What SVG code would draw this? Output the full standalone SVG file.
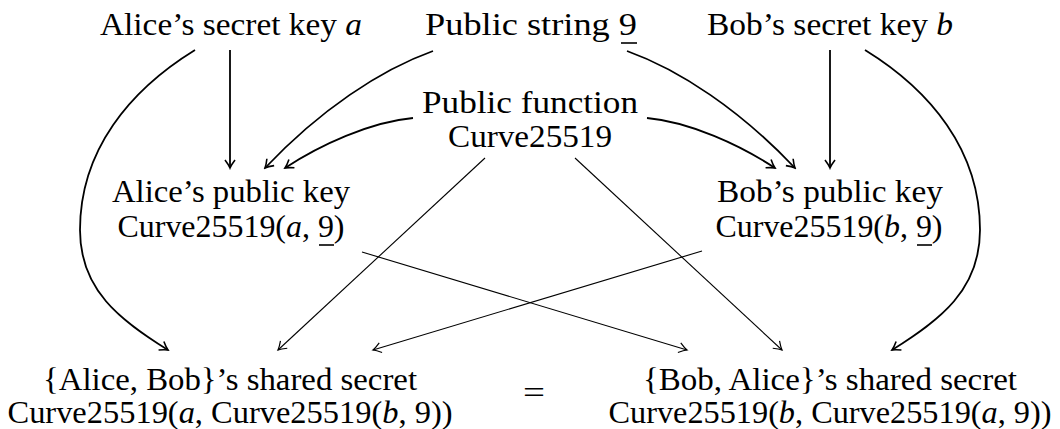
<svg xmlns="http://www.w3.org/2000/svg" width="1060" height="429" viewBox="0 0 1060 429">
<style>
text{font-family:'Liberation Serif','Times New Roman',serif;font-size:32px;fill:#000;text-anchor:middle}
.it{font-style:italic}
.thick{fill:none;stroke:#000;stroke-width:1.8;marker-end:url(#arr)}
.thin{fill:none;stroke:#000;stroke-width:1.1;marker-end:url(#arrThin)}
.ul{stroke:#000;stroke-width:1.6}
</style>
<defs>
<marker id="arr" viewBox="-10 -6 12 12" markerWidth="12" markerHeight="12" refX="0" refY="0" orient="auto" markerUnits="userSpaceOnUse">
<path d="M-8,-5 Q-3,-1.2 0,0 Q-3,1.2 -8,5" fill="none" stroke="#000" stroke-width="1.6"/>
</marker>
<marker id="arrThin" viewBox="-10 -6 12 12" markerWidth="12" markerHeight="12" refX="0" refY="0" orient="auto" markerUnits="userSpaceOnUse">
<path d="M-8,-5 Q-3,-1.2 0,0 Q-3,1.2 -8,5" fill="none" stroke="#000" stroke-width="1.2"/>
</marker>
</defs>
<g id="connectors">
<path class="thick" d="M230,50 L230,168"/>
<path class="thick" d="M830,50 L830,168"/>
<path class="thick" d="M195,50 C130,90 80,150 80,230 C80,290 120,320 168,350"/>
<path class="thick" d="M865,50 C930,90 980,150 980,230 C980,290 940,320 892,350"/>
<path class="thick" d="M433,51 C380,70 320,110 265,168"/>
<path class="thick" d="M627,51 C680,70 740,110 795,168"/>
<path class="thick" d="M413,118 C370,122 320,145 285,168"/>
<path class="thick" d="M647,118 C690,122 740,145 775,168"/>
<path class="thin" d="M485,158 L278,350"/>
<path class="thin" d="M575,158 L782,350"/>
<path class="thin" d="M362,252 L687,350"/>
<path class="thin" d="M702,251 L373,350"/>
</g>
<g id="alice-secret">
<text x="231" y="35" textLength="262" lengthAdjust="spacingAndGlyphs">Alice’s secret key <tspan class="it">a</tspan></text>
</g>
<g id="public-string">
<text x="531" y="35" textLength="212" lengthAdjust="spacingAndGlyphs">Public string 9</text>
<line class="ul" x1="621" y1="43" x2="637" y2="43"/>
</g>
<g id="bob-secret">
<text x="830" y="35" textLength="246" lengthAdjust="spacingAndGlyphs">Bob’s secret key <tspan class="it">b</tspan></text>
</g>
<g id="public-function">
<text x="530" y="113" textLength="216" lengthAdjust="spacingAndGlyphs">Public function</text>
<text x="530" y="147" textLength="164" lengthAdjust="spacingAndGlyphs">Curve25519</text>
</g>
<g id="alice-public">
<text x="231" y="202" textLength="238" lengthAdjust="spacingAndGlyphs">Alice’s public key</text>
<text x="231" y="237" textLength="227" lengthAdjust="spacingAndGlyphs">Curve25519(<tspan class="it">a</tspan>, 9)</text>
<line class="ul" x1="319" y1="245" x2="334" y2="245"/>
</g>
<g id="bob-public">
<text x="830" y="202" textLength="226" lengthAdjust="spacingAndGlyphs">Bob’s public key</text>
<text x="829" y="237" textLength="227" lengthAdjust="spacingAndGlyphs">Curve25519(<tspan class="it">b</tspan>, 9)</text>
<line class="ul" x1="917" y1="245" x2="932" y2="245"/>
</g>
<g id="alice-bob-shared">
<text x="230" y="390" textLength="374" lengthAdjust="spacingAndGlyphs">{Alice, Bob}’s shared secret</text>
<text x="230" y="423" textLength="445" lengthAdjust="spacingAndGlyphs">Curve25519(<tspan class="it">a</tspan>, Curve25519(<tspan class="it">b</tspan>, 9))</text>
</g>
<g id="equals">
<text x="534" y="403" textLength="22" lengthAdjust="spacingAndGlyphs">=</text>
</g>
<g id="bob-alice-shared">
<text x="830" y="390" textLength="374" lengthAdjust="spacingAndGlyphs">{Bob, Alice}’s shared secret</text>
<text x="830" y="423" textLength="443" lengthAdjust="spacingAndGlyphs">Curve25519(<tspan class="it">b</tspan>, Curve25519(<tspan class="it">a</tspan>, 9))</text>
</g>
</svg>
